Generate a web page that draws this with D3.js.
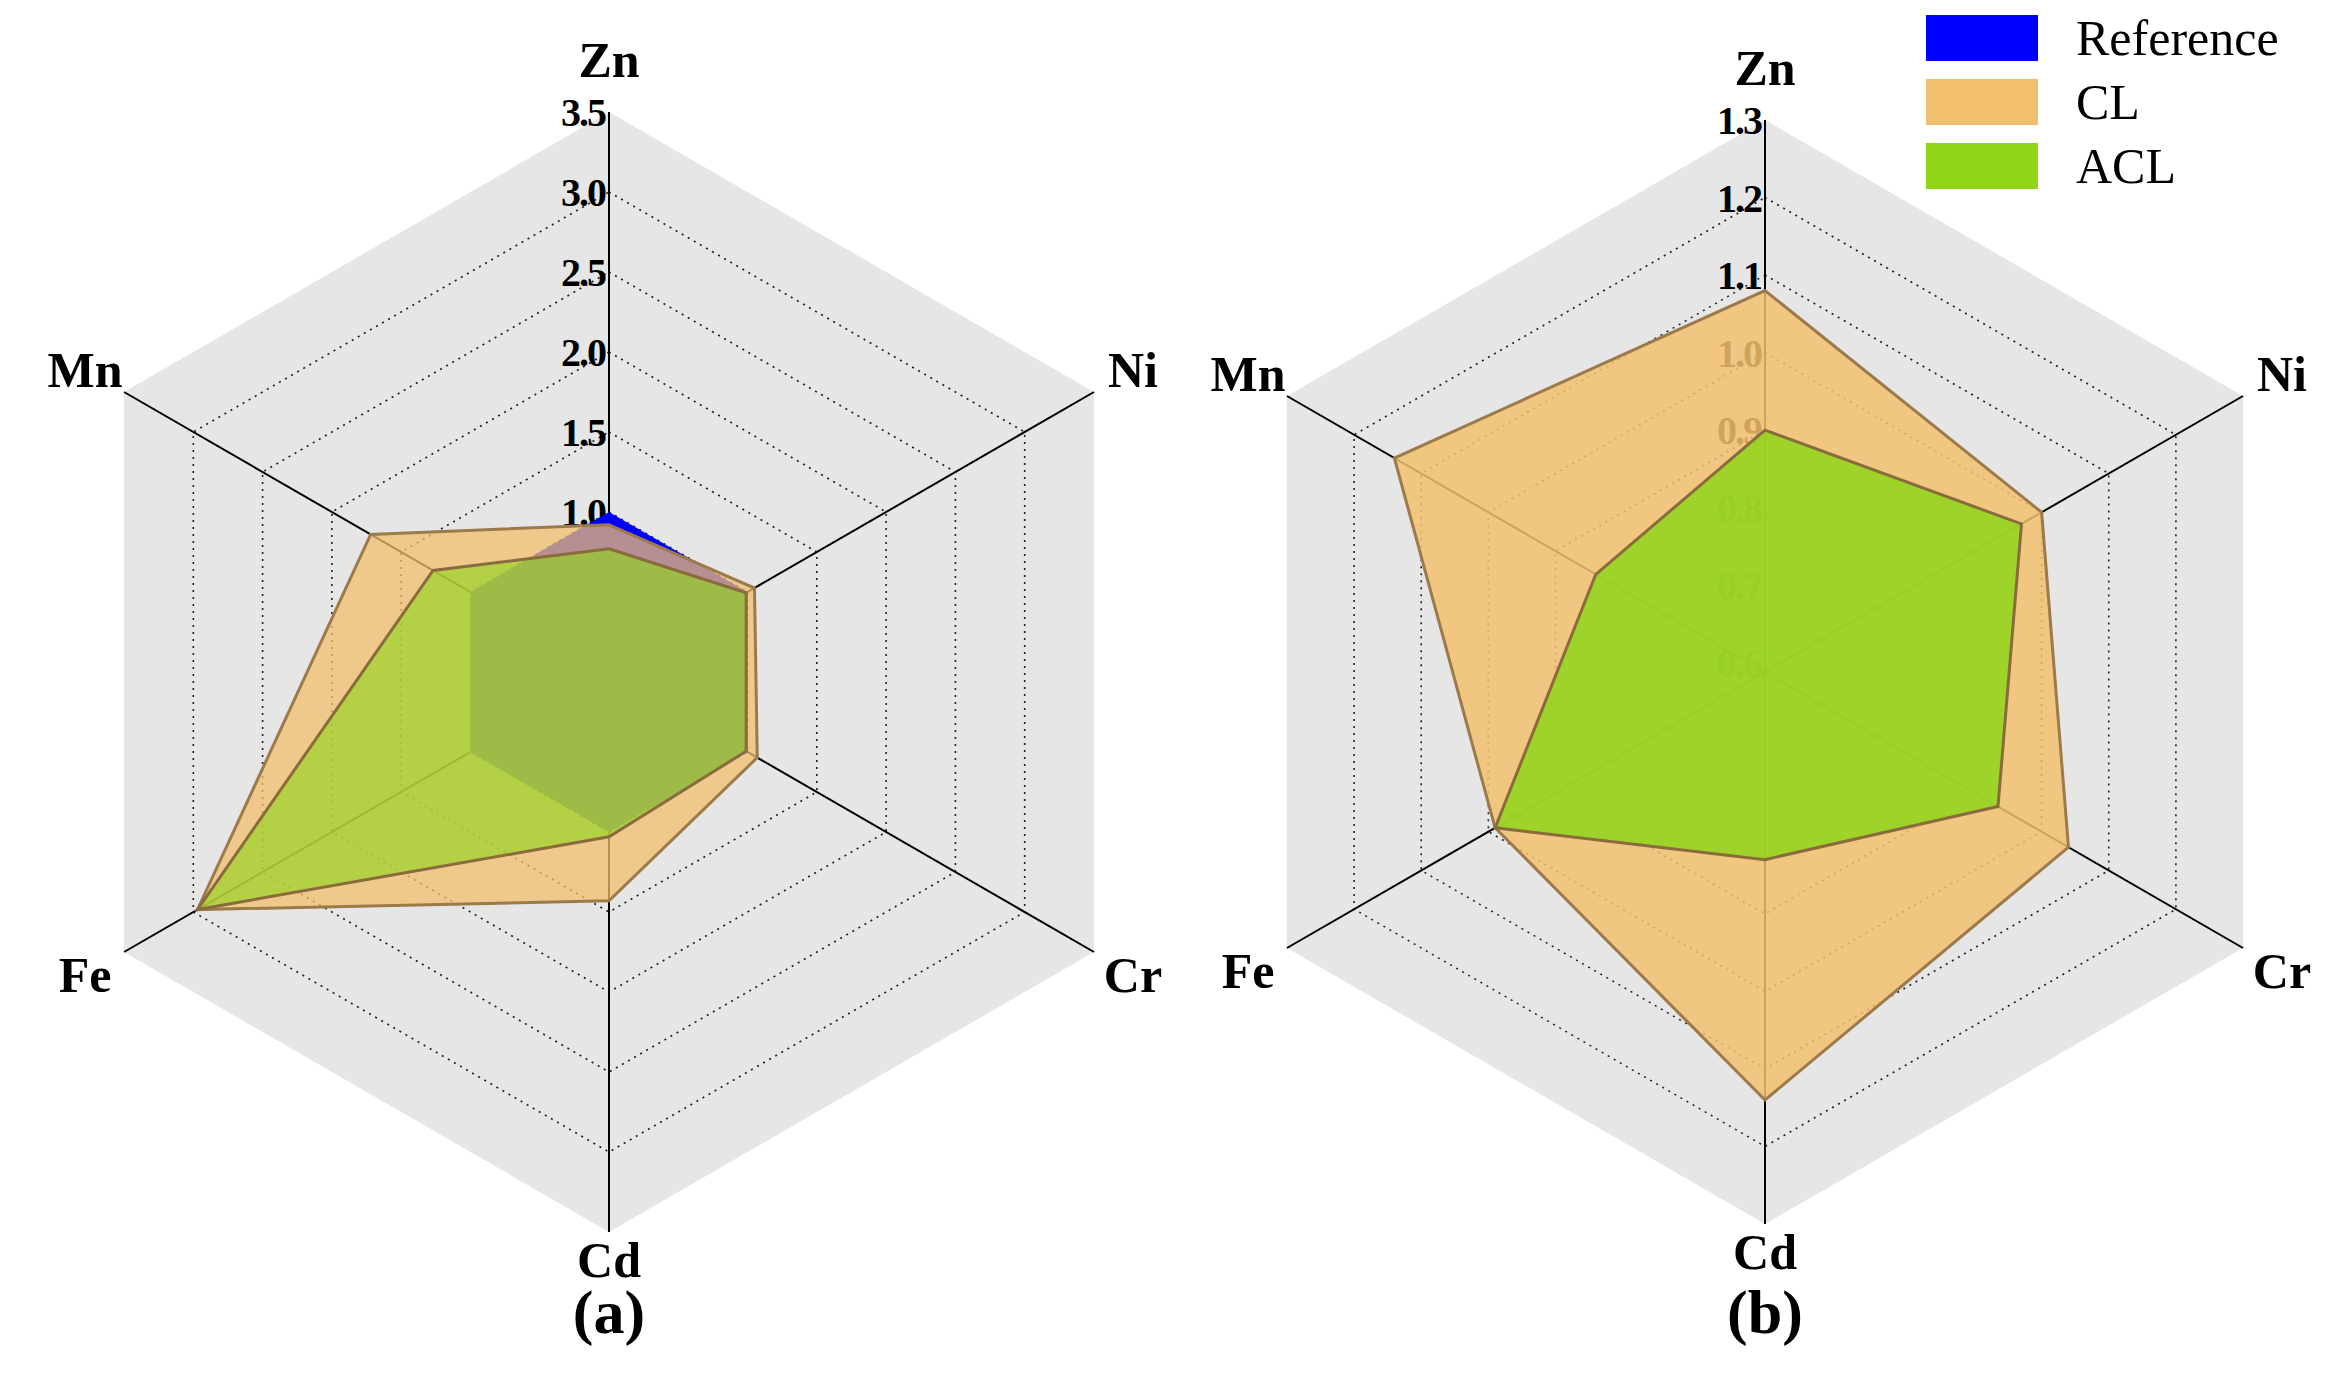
<!DOCTYPE html>
<html>
<head>
<meta charset="utf-8">
<script src="https://cdn.jsdelivr.net/npm/d3@7"></script>
<style>
  body { margin: 0; background: #fff; }
  text { font-family: "Liberation Serif", "DejaVu Serif", serif; }
</style>
</head>
<body>
<svg id="chart"></svg>
<script>
// axes (clockwise from top)
const elements = ["Zn", "Ni", "Cr", "Cd", "Fe", "Mn"];

// panel (a)
const refA = [1.0, 1.0, 1.0, 1.0, 1.0, 1.0];
const clA = [0.92, 1.05, 1.07, 1.43, 2.97, 1.72];
const aclA = [0.77, 0.99, 0.99, 1.03, 2.97, 1.27];
const ticksA = [0.5, 1.0, 1.5, 2.0, 2.5, 3.0, 3.5];

// panel (b)
const clB = [1.08, 1.0, 1.04, 1.14, 0.99, 1.14];
const aclB = [0.9, 0.97, 0.935, 0.83, 0.99, 0.84];
const ticksB = [0.6, 0.7, 0.8, 0.9, 1.0, 1.1, 1.2, 1.3];

const seriesNames = ["Reference", "CL", "ACL"];
const seriesColors = ["#0000ff", "#f2bf6e", "#8fd61a"];

const width = 2341, height = 1381;
const svg = d3.select("#chart").attr("width", width).attr("height", height);

function angle(i) { return i * Math.PI * 2 / elements.length; }
function pt(i, r) { return [r * Math.sin(angle(i)), -r * Math.cos(angle(i))]; }

function radar(cx, cy, radius, domain, ticks, series, tag) {
  const g = svg.append("g").attr("transform", `translate(${cx},${cy})`);
  const r = d3.scaleLinear().domain(domain).range([0, radius]);
  const hex = (rad) => elements.map((e, i) => pt(i, rad));
  const line = d3.line().curve(d3.curveLinearClosed);

  // grey background
  g.append("path").attr("d", line(hex(radius))).attr("fill", "#e6e6e6");

  // dotted rings
  g.selectAll(".ring").data(ticks.slice(0, -1)).enter().append("path")
    .attr("d", d => line(hex(r(d))))
    .attr("fill", "none").attr("stroke", "#222").attr("stroke-width", 1.6)
    .attr("stroke-dasharray", "2,5");

  // axis lines
  g.selectAll(".ax").data(elements).enter().append("line")
    .attr("x1", 0).attr("y1", 0)
    .attr("x2", (d, i) => pt(i, radius)[0]).attr("y2", (d, i) => pt(i, radius)[1])
    .attr("stroke", "#000").attr("stroke-width", 2);

  // tick labels along Zn axis
  g.selectAll(".tick").data(ticks).enter().append("text")
    .attr("x", -4).attr("y", d => -r(d) + 14)
    .attr("text-anchor", "end").attr("font-size", 40).attr("font-weight", "bold")
    .attr("letter-spacing", -2)
    .text(d => d.toFixed(1));

  // data polygons
  series.forEach(s => {
    g.append("path")
      .attr("d", line(s.values.map((v, i) => pt(i, r(v)))))
      .attr("fill", s.color).attr("fill-opacity", s.opacity)
      .attr("stroke", s.stroke).attr("stroke-width", 3);
  });

  // element labels
  const off = [52, 45, 45, 28, 45, 45];
  g.selectAll(".lab").data(elements).enter().append("text")
    .attr("x", (d, i) => pt(i, radius + off[i])[0])
    .attr("y", (d, i) => pt(i, radius + off[i])[1])
    .attr("text-anchor", "middle").attr("dominant-baseline", "central")
    .attr("font-size", 50).attr("font-weight", "bold")
    .text(d => d);

  g.append("text").attr("x", 0).attr("y", 640)
    .attr("text-anchor", "middle").attr("dominant-baseline", "central")
    .attr("font-size", 62).attr("font-weight", "bold")
    .text(tag);
}

radar(609, 672, 560, [0, 3.5], ticksA, [
  { values: refA, color: seriesColors[0], opacity: 1, stroke: "none" },
  { values: clA, color: seriesColors[1], opacity: 0.75, stroke: "#9c7a4a" },
  { values: aclA, color: seriesColors[2], opacity: 0.62, stroke: "#8a6b3c" }
], "(a)");

radar(1765, 672, 552, [0.588, 1.3], ticksB, [
  { values: clB, color: seriesColors[1], opacity: 0.85, stroke: "#9c7a4a" },
  { values: aclB, color: seriesColors[2], opacity: 0.85, stroke: "#8a6b3c" }
], "(b)");

// legend
const leg = svg.append("g").attr("transform", "translate(1926,15)");
seriesNames.forEach((n, i) => {
  leg.append("rect").attr("x", 0).attr("y", i * 64).attr("width", 112).attr("height", 46)
    .attr("fill", seriesColors[i]);
  leg.append("text").attr("x", 150).attr("y", i * 64 + 23)
    .attr("dominant-baseline", "central").attr("font-size", 50).text(n);
});
</script>
</body>
</html>
